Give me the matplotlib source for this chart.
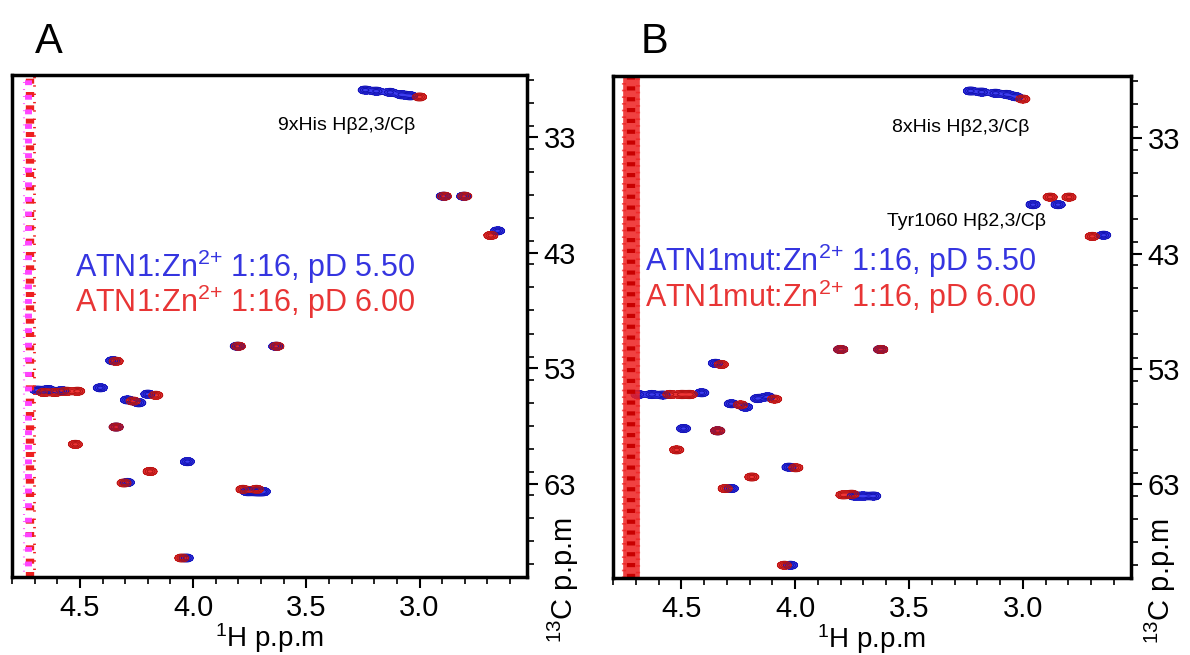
import numpy as np
import matplotlib
matplotlib.use('Agg')
import matplotlib.pyplot as plt
from matplotlib.ticker import MultipleLocator, FixedLocator

plt.rcParams['font.family'] = ['Liberation Sans', 'DejaVu Sans']
plt.rcParams['mathtext.fontset'] = 'custom'
plt.rcParams['mathtext.rm'] = 'Liberation Sans'
plt.rcParams['mathtext.it'] = 'Liberation Sans:italic'

# peak lists (1H ppm, 13C ppm)
a_blue_h = [3.24, 3.19, 3.13, 3.08, 3.04, 2.895, 2.805, 2.655, 3.805, 3.635, 4.355,
            4.69, 4.64, 4.58, 4.41, 4.20, 4.29, 4.24, 4.34, 4.025, 4.29,
            3.76, 3.72, 3.69, 4.03]
a_blue_c = [28.9, 29.0, 29.1, 29.3, 29.4, 38.1, 38.1, 41.1, 51.1, 51.1, 52.35,
            54.9, 54.85, 54.95, 54.7, 55.25, 55.75, 56.0, 58.1, 61.1, 62.9,
            63.7, 63.7, 63.7, 69.45]
a_red_h = [3.00, 2.89, 2.80, 2.685, 3.80, 3.63, 4.34, 4.66, 4.61, 4.56, 4.51,
           4.165, 4.265, 4.34, 4.52, 4.19, 4.305, 3.78, 3.72, 4.05]
a_red_c = [29.5, 38.1, 38.1, 41.5, 51.1, 51.1, 52.4, 55.1, 55.1, 55.0, 55.0,
           55.35, 55.85, 58.1, 59.6, 61.95, 62.95, 63.5, 63.5, 69.45]

b_blue_h = [3.23, 3.18, 3.12, 3.07, 3.03, 2.955, 2.845, 2.645, 3.80, 3.625, 4.35,
            4.69, 4.63, 4.58, 4.41, 4.165, 4.12, 4.28, 4.218, 4.49, 4.34,
            4.027, 4.28, 3.74, 3.70, 3.655, 4.02]
b_blue_c = [28.9, 29.0, 29.1, 29.2, 29.4, 38.75, 38.75, 41.4, 51.3, 51.3, 52.5,
            55.2, 55.2, 55.25, 55.05, 55.55, 55.4, 56.0, 56.3, 58.15, 58.35,
            61.5, 63.35, 64.0, 64.0, 64.0, 70.0]
b_red_h = [3.00, 2.88, 2.797, 2.695, 3.80, 3.624, 4.324, 4.55, 4.50, 4.46,
           4.09, 4.24, 4.34, 4.52, 3.997, 4.19, 4.307, 3.79, 3.75, 4.047]
b_red_c = [29.6, 38.1, 38.1, 41.5, 51.3, 51.3, 52.6, 55.2, 55.2, 55.2,
           55.6, 56.1, 58.35, 60.0, 61.55, 62.35, 63.35, 63.9, 63.85, 70.0]

water_h = 4.72

a_legend = [r'ATN1:Zn$^{2{+}}$ 1:16, pD 5.50', r'ATN1:Zn$^{2{+}}$ 1:16, pD 6.00']
b_legend = [r'ATN1mut:Zn$^{2{+}}$ 1:16, pD 5.50', r'ATN1mut:Zn$^{2{+}}$ 1:16, pD 6.00']
a_notes = [('9xHis Hβ2,3/Cβ', 3.02, 32.0)]
b_notes = [('8xHis Hβ2,3/Cβ', 2.97, 32.1), ('Tyr1060 Hβ2,3/Cβ', 2.90, 40.2)]

BLUE = '#2828ee'
RED = '#ee2020'
MAGENTA = '#ff44ff'

gx = np.linspace(4.85, 2.45, 1000)
gy = np.linspace(26.5, 72.5, 800)
GX, GY = np.meshgrid(gx, gy)


def spectrum(hs, cs):
    z = np.zeros_like(GX)
    for h, c in zip(hs, cs):
        z += np.exp(-0.5 * ((GX - h) / 0.017) ** 2 - 0.5 * ((GY - c) / 0.19) ** 2)
    return z


def draw_panel(ax, blue, red, legend, notes, leg_xy, water_style):
    zb = spectrum(*blue)
    zr = spectrum(*red)
    ax.contourf(GX, GY, zb, levels=[0.2, 100], colors=[BLUE], alpha=0.9)
    ax.contour(GX, GY, zb, levels=[0.2, 0.45, 0.75], colors=['#1414b4'], linewidths=0.8)
    ax.contourf(GX, GY, zr, levels=[0.2, 100], colors=[RED], alpha=0.9)
    ax.contour(GX, GY, zr, levels=[0.2, 0.45, 0.75], colors=['#b41414'], linewidths=0.8)

    if water_style == 'a':
        ax.axvline(water_h, color=RED, lw=6, ls=(0, (0.6, 1.0)))
        ax.axvline(water_h + 0.008, color=MAGENTA, lw=5, ls=(0.5, (0.7, 1.4)))
        ax.axvline(water_h - 0.018, color=RED, lw=2, ls=(0.3, (0.5, 2.5)))
        ax.axvline(water_h + 0.025, color=MAGENTA, lw=1.5, ls=(0.8, (0.4, 3.0)))
    else:
        ax.axvline(water_h, color=RED, lw=12, alpha=0.85)
        ax.axvline(water_h, color='#c80000', lw=6, ls=(0, (0.5, 0.8)))
        ax.axvline(water_h + 0.03, color=RED, lw=3, ls=(0, (0.4, 1.2)), alpha=0.7)
        ax.axvline(water_h - 0.03, color=RED, lw=3, ls=(0.5, (0.4, 1.2)), alpha=0.7)

    ax.set_xlim(4.80, 2.525)
    ax.set_ylim(71.1, 27.6)

    ax.xaxis.set_major_locator(FixedLocator([4.5, 4.0, 3.5, 3.0]))
    ax.xaxis.set_minor_locator(MultipleLocator(0.1))
    ax.set_xticklabels(['4.5', '4.0', '3.5', '3.0'])
    ax.yaxis.set_major_locator(FixedLocator([33, 43, 53, 63]))
    ax.yaxis.set_minor_locator(MultipleLocator(2))
    ax.yaxis.tick_right()
    ax.tick_params(axis='both', which='major', direction='out', length=8, width=1.5,
                   labelsize=21, pad=4)
    ax.tick_params(axis='both', which='minor', direction='out', length=5, width=1.2)
    ax.tick_params(axis='y', which='both', left=False, right=True)
    ax.tick_params(axis='x', which='both', top=False, bottom=True)
    for s in ax.spines.values():
        s.set_linewidth(2.5)

    ax.set_xlabel(r'$^{1}$H p.p.m', fontsize=20)
    ax.xaxis.set_label_coords(0.5, -0.088)
    ax.yaxis.set_label_position('right')
    ax.set_ylabel(r'$^{13}$C p.p.m', fontsize=21, rotation=90)

    ax.text(leg_xy[0], leg_xy[1], legend[0], color='#3535e0', fontsize=22,
            transform=ax.transAxes, va='center', ha='left')
    ax.text(leg_xy[0], leg_xy[2], legend[1], color='#e83535', fontsize=22,
            transform=ax.transAxes, va='center', ha='left')
    for label, h, c in notes:
        ax.text(h, c, label, fontsize=14, ha='right', va='center', color='black')


fig = plt.figure(figsize=(11.9, 6.55), dpi=100)
ax1 = fig.add_axes([0.0101, 0.119, 0.4328, 0.7664])
ax2 = fig.add_axes([0.5151, 0.1176, 0.4353, 0.7664])

draw_panel(ax1, (a_blue_h, a_blue_c), (a_red_h, a_red_c), a_legend, a_notes,
           (0.122, 0.617, 0.548), 'a')
draw_panel(ax2, (b_blue_h, b_blue_c), (b_red_h, b_red_c), b_legend, b_notes,
           (0.062, 0.631, 0.560), 'b')
ax1.yaxis.set_label_coords(1.07, -0.006)
ax2.yaxis.set_label_coords(1.056, -0.006)
ax1.yaxis.label.set_va('center')
ax2.yaxis.label.set_va('center')

fig.text(0.029, 0.936, 'A', fontsize=30, va='center', ha='left')
fig.text(0.538, 0.936, 'B', fontsize=30, va='center', ha='left')

fig.savefig('out.png', dpi=100)
